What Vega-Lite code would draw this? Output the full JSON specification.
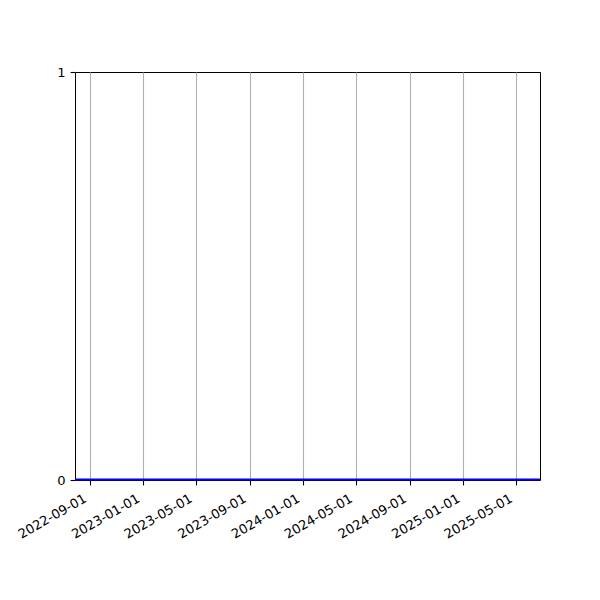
{
  "$schema": "https://vega.github.io/schema/vega-lite/v6.json",
  "width": 465,
  "height": 408,
  "autosize": {"type": "none"},
  "padding": {"left": 75, "top": 72, "right": 60, "bottom": 120},
  "background": "white",
  "config": {
    "view": {"stroke": "black", "strokeWidth": 1},
    "font": "DejaVu Sans",
    "axis": {
      "labelFont": "DejaVu Sans",
      "labelFontSize": 13.1,
      "labelColor": "black",
      "tickColor": "black",
      "tickSize": 4.9,
      "tickWidth": 1.1,
      "labelPadding": 4.9,
      "domain": false,
      "title": null,
      "zindex": 1
    }
  },
  "data": {
    "values": [
      {"date": "2022-07-29", "value": 0},
      {"date": "2023-01-01", "value": 0},
      {"date": "2024-01-01", "value": 0},
      {"date": "2025-01-01", "value": 0},
      {"date": "2025-06-25", "value": 0}
    ]
  },
  "mark": {"type": "line", "color": "#0000ff", "strokeWidth": 2, "yOffset": -0.6, "clip": false},
  "encoding": {
    "x": {
      "field": "date",
      "type": "temporal",
      "scale": {
        "type": "utc",
        "nice": false,
        "domain": [
          {"year": 2022, "month": 7, "date": 29, "utc": true},
          {"year": 2025, "month": 6, "date": 25, "utc": true}
        ]
      },
      "axis": {
        "values": [
          {"year": 2022, "month": 9, "date": 1, "utc": true},
          {"year": 2023, "month": 1, "date": 1, "utc": true},
          {"year": 2023, "month": 5, "date": 1, "utc": true},
          {"year": 2023, "month": 9, "date": 1, "utc": true},
          {"year": 2024, "month": 1, "date": 1, "utc": true},
          {"year": 2024, "month": 5, "date": 1, "utc": true},
          {"year": 2024, "month": 9, "date": 1, "utc": true},
          {"year": 2025, "month": 1, "date": 1, "utc": true},
          {"year": 2025, "month": 5, "date": 1, "utc": true}
        ],
        "format": "%Y-%m-%d",
        "labelAngle": -30,
        "labelAlign": "right",
        "labelBaseline": "top",
        "labelOffset": -8,
        "labelPadding": 7,
        "labelFlush": false,
        "labelOverlap": false,
        "grid": true,
        "gridColor": "#b0b0b0",
        "gridWidth": 1.1
      }
    },
    "y": {
      "field": "value",
      "type": "quantitative",
      "scale": {"domain": [0, 1], "nice": false},
      "axis": {"values": [0, 1], "format": "d", "grid": false, "labelFlush": false, "labelOverlap": false}
    }
  }
}
